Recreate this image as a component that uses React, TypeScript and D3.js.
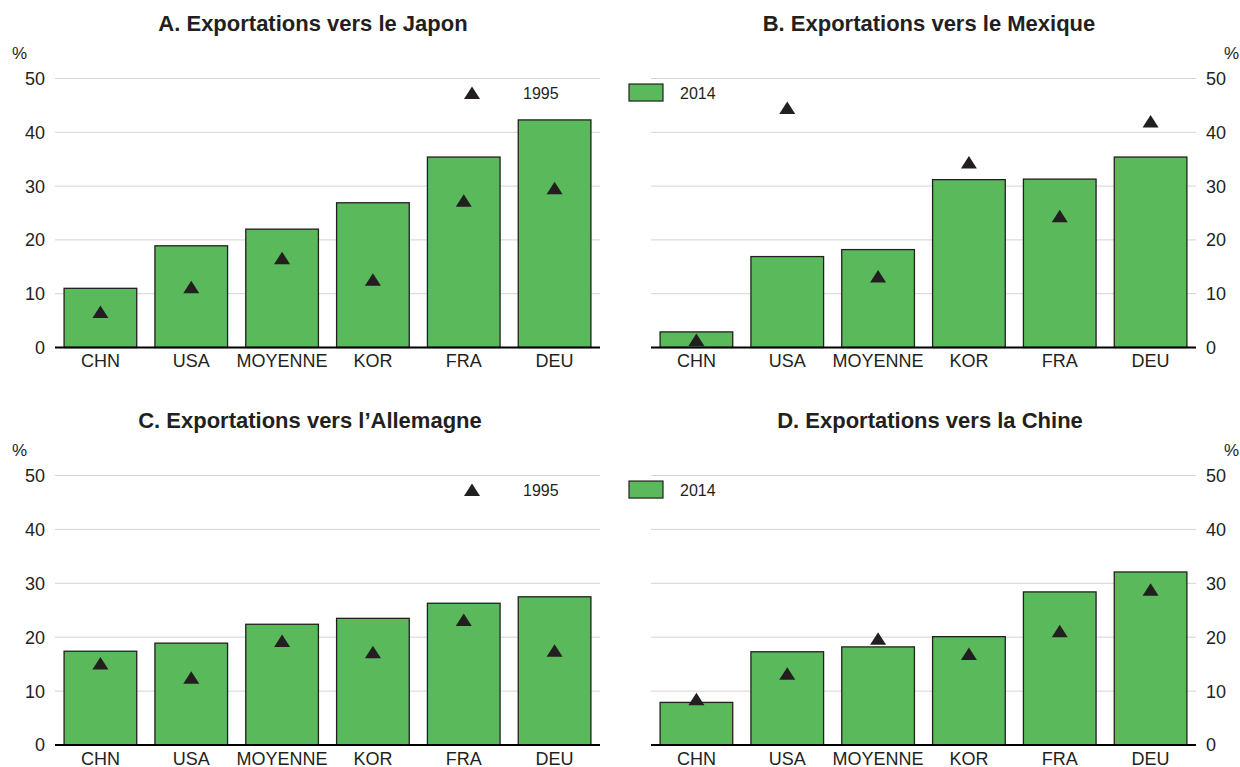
import React from "react";
import * as d3 from "d3";

// Categories and tick values shared by the four panels
const categories = ["CHN", "USA", "MOYENNE", "KOR", "FRA", "DEU"];
const yTicks = [0, 10, 20, 30, 40, 50];

// Share of exports (%), 2014 bars and 1995 markers
const japon2014 = [11.0, 18.9, 22.0, 26.9, 35.4, 42.3];
const japon1995 = [6.6, 11.2, 16.6, 12.6, 27.3, 29.6];
const mexique2014 = [2.9, 16.9, 18.2, 31.2, 31.3, 35.4];
const mexique1995 = [1.4, 44.5, 13.2, 34.4, 24.4, 42.0];
const allemagne2014 = [17.4, 18.9, 22.4, 23.5, 26.3, 27.5];
const allemagne1995 = [15.1, 12.5, 19.3, 17.2, 23.2, 17.5];
const chine2014 = [7.9, 17.3, 18.2, 20.1, 28.4, 32.1];
const chine1995 = [8.5, 13.2, 19.7, 16.9, 21.1, 28.8];

const legend1995 = "1995";
const legend2014 = "2014";
const legendMarkerValue = 47.3;

const BAR_FILL = "#5ab95a";
const BAR_STROKE = "#231f20";
const MARK_FILL = "#231f20";
const GRID = "#d4d4d4";
const TEXT = "#231f20";
const FONT = "'Liberation Sans', Arial, Helvetica, sans-serif";

type PanelDef = {
  title: string;
  bars: number[];
  marks: number[];
  x0: number;
  x1: number;
  yTop: number;
  yBottom: number;
  titleX: number;
  titleY: number;
  axis: "left" | "right";
  legend: "1995" | "2014";
};

const panels: PanelDef[] = [
  {
    title: "A. Exportations vers le Japon",
    bars: japon2014,
    marks: japon1995,
    x0: 55, x1: 600, yTop: 78.5, yBottom: 347.5,
    titleX: 313, titleY: 31, axis: "left", legend: "1995",
  },
  {
    title: "B. Exportations vers le Mexique",
    bars: mexique2014,
    marks: mexique1995,
    x0: 651, x1: 1196, yTop: 78.5, yBottom: 347.5,
    titleX: 929, titleY: 31, axis: "right", legend: "2014",
  },
  {
    title: "C. Exportations vers l\u2019Allemagne",
    bars: allemagne2014,
    marks: allemagne1995,
    x0: 55, x1: 600, yTop: 475.5, yBottom: 745,
    titleX: 310, titleY: 428, axis: "left", legend: "1995",
  },
  {
    title: "D. Exportations vers la Chine",
    bars: chine2014,
    marks: chine1995,
    x0: 651, x1: 1196, yTop: 475.5, yBottom: 745,
    titleX: 930, titleY: 428, axis: "right", legend: "2014",
  },
];

// Upward triangle centred on (cx, cy)
const triangle = (cx: number, cy: number) =>
  `M${cx},${cy - 6.5} L${cx + 8},${cy + 6} L${cx - 8},${cy + 6} Z`;

function Panel({ p }: { p: PanelDef }) {
  const x = d3
    .scaleBand<string>()
    .domain(categories)
    .range([p.x0, p.x1])
    .paddingInner(0.2)
    .paddingOuter(0.1);
  const y = d3.scaleLinear().domain([0, 50]).range([p.yBottom, p.yTop]);

  const tickX = p.axis === "left" ? p.x0 - 10 : p.x1 + 10;
  const tickAnchor = p.axis === "left" ? "end" : "start";
  const pctX = p.axis === "left" ? 12 : 1224;

  return (
    <g>
      <text
        x={p.titleX}
        y={p.titleY}
        textAnchor="middle"
        fontWeight="bold"
        fontSize={22}
        fill={TEXT}
      >
        {p.title}
      </text>
      <text x={pctX} y={y(50) - 20} fontSize={17} fill={TEXT}>
        %
      </text>

      {yTicks.map((t) => (
        <g key={t}>
          {t > 0 && (
            <line
              x1={p.x0}
              x2={p.x1}
              y1={y(t)}
              y2={y(t)}
              stroke={GRID}
              strokeWidth={1}
            />
          )}
          <text
            x={tickX}
            y={y(t)}
            dy="0.36em"
            textAnchor={tickAnchor}
            fontSize={18}
            fill={TEXT}
          >
            {t}
          </text>
        </g>
      ))}

      {/* legend */}
      {p.legend === "1995" ? (
        <g>
          <path d={triangle(472, y(legendMarkerValue))} fill={MARK_FILL} />
          <text x={523} y={y(legendMarkerValue) + 6} fontSize={16} fill={TEXT}>
            {legend1995}
          </text>
        </g>
      ) : (
        <g>
          <rect
            x={629}
            y={y(legendMarkerValue) - 9}
            width={34}
            height={17}
            fill={BAR_FILL}
            stroke={BAR_STROKE}
            strokeWidth={1.2}
          />
          <text x={680} y={y(legendMarkerValue) + 6} fontSize={16} fill={TEXT}>
            {legend2014}
          </text>
        </g>
      )}

      {categories.map((c, i) => (
        <rect
          key={c}
          x={x(c)}
          y={y(p.bars[i])}
          width={x.bandwidth()}
          height={y(0) - y(p.bars[i])}
          fill={BAR_FILL}
          stroke={BAR_STROKE}
          strokeWidth={1.3}
        />
      ))}

      <line
        x1={p.x0}
        x2={p.x1}
        y1={y(0)}
        y2={y(0)}
        stroke="#000"
        strokeWidth={2}
      />

      {categories.map((c, i) => (
        <path
          key={c}
          d={triangle((x(c) as number) + x.bandwidth() / 2, y(p.marks[i]))}
          fill={MARK_FILL}
        />
      ))}

      {categories.map((c) => (
        <text
          key={c}
          x={(x(c) as number) + x.bandwidth() / 2}
          y={y(0) + 19.5}
          textAnchor="middle"
          fontSize={18}
          fill={TEXT}
        >
          {c}
        </text>
      ))}
    </g>
  );
}

export default function App() {
  return (
    <div style={{ position: "absolute", left: 0, top: 0 }}>
      <svg
        width={1240}
        height={767}
        viewBox="0 0 1240 767"
        style={{ display: "block", background: "#fff", fontFamily: FONT }}
      >
        {panels.map((p) => (
          <Panel key={p.title} p={p} />
        ))}
      </svg>
    </div>
  );
}
